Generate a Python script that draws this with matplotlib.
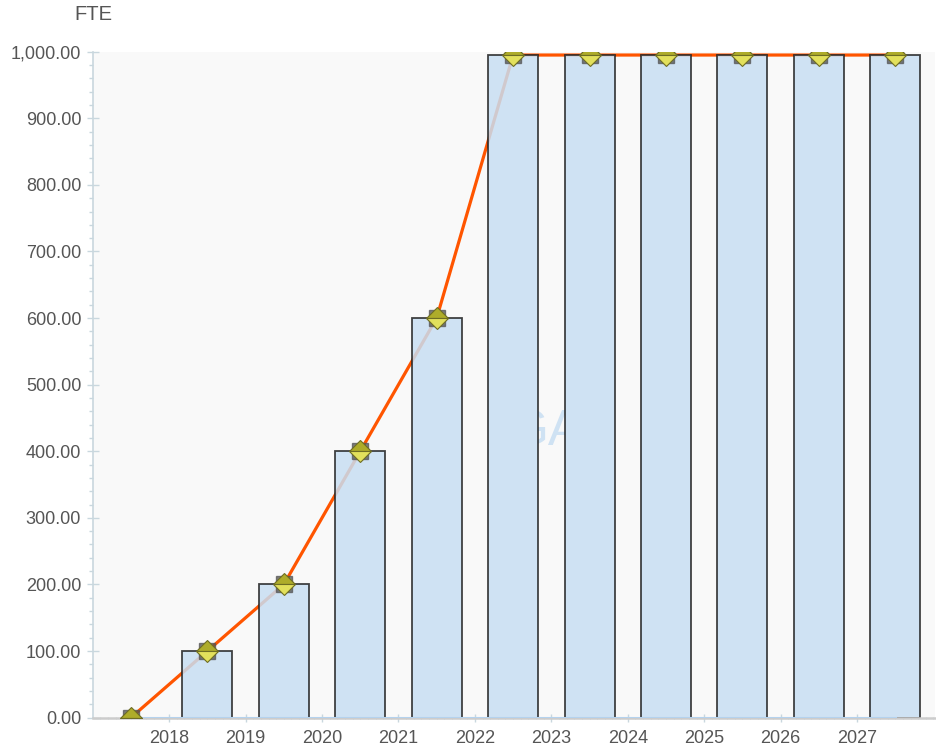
"""FTE ramp-up per year: bars with an overlaid trend line."""
import matplotlib

matplotlib.use("Agg")
import matplotlib.pyplot as plt
from matplotlib.ticker import FuncFormatter, MultipleLocator

# positions 0..10 are the mid-year points; the year labels sit between them
point_pos = [0, 1, 2, 3, 4, 5, 6, 7, 8, 9, 10]
fte = [0, 100, 200, 400, 600, 995, 995, 995, 995, 995, 995]
zero_series = [0, 0, 0, 0, 0, 0, 0, 0, 0, 0, 0]
year_labels = ["2018", "2019", "2020", "2021", "2022",
               "2023", "2024", "2025", "2026", "2027"]

plt.rcParams["font.family"] = ["Liberation Sans", "DejaVu Sans"]

W, H = 937, 746
fig = plt.figure(figsize=(W / 100, H / 100), dpi=100)
left, right, top, bottom = 93, 935, 51.7, 717.6
ax = fig.add_axes([left / W, (H - bottom) / H, (right - left) / W, (bottom - top) / H])
ax.set_facecolor("#f9f9f9")

ax.set_xlim(-0.497, 10.52)
ax.set_ylim(0, 1000)
bar_w = 0.655

# watermark text, hidden wherever a bar covers it
ax.text(4.95, 409, "GA", color="#cfe2f3", fontsize=36, ha="left", va="baseline", zorder=1)
ax.bar(point_pos[1:], fte[1:], width=bar_w, color="#f9f9f9", linewidth=0, zorder=1.5)

# trend line goes under the translucent bars
ax.plot(point_pos, fte, color="#ff5500", lw=2.3, zorder=2, solid_capstyle="round")
ax.bar(point_pos[1:], fte[1:], width=bar_w, color="#c8def2", alpha=0.85,
       edgecolor="#222222", linewidth=1.3, zorder=3)
ax.plot(point_pos, zero_series, color="#b4d2ee", lw=2.2, zorder=7)

# diamond markers with a dark square shadow
ax.plot(point_pos, fte, ls="none", marker="s", ms=11, color="#555555", alpha=0.75, zorder=8)
ax.plot(point_pos, fte, ls="none", marker="D", ms=11.5, fillstyle="top",
        markerfacecolor="#aeac2a", markerfacecoloralt="#e2e05c",
        markeredgecolor="#6e6d24", markeredgewidth=0.8, zorder=9)

for side in ("top", "right"):
    ax.spines[side].set_visible(False)
ax.spines["left"].set_color("#c9d7de")
ax.spines["left"].set_linewidth(1.2)
ax.spines["bottom"].set_color("#cccccc")
ax.spines["bottom"].set_linewidth(1.8)
ax.spines["bottom"].set_zorder(6)

ax.yaxis.set_major_locator(MultipleLocator(100))
ax.yaxis.set_minor_locator(MultipleLocator(20))
ax.yaxis.set_major_formatter(FuncFormatter(lambda v, _: f"{v:,.2f}"))
ax.tick_params(axis="y", which="major", direction="inout", length=9, width=1,
               color="#c9d7de", labelsize=13, labelcolor="#555555", pad=4)
ax.tick_params(axis="y", which="minor", direction="out", length=3, width=1, color="#c9d7de")

ax.set_xticks([p + 0.5 for p in point_pos[:-1]])
ax.set_xticklabels(year_labels)
ax.xaxis.set_minor_locator(MultipleLocator(0.1))
ax.tick_params(axis="x", which="major", direction="inout", length=6, width=1,
               color="#c9d7de", labelsize=13, labelcolor="#555555", pad=6)
ax.tick_params(axis="x", which="minor", direction="inout", length=2, width=0.8, color="#d0dce2")

fig.text(93 / W, 1 - 15 / H, "FTE", fontsize=14.5, color="#555555", ha="center", va="center")

fig.savefig("out.png", dpi=100)
